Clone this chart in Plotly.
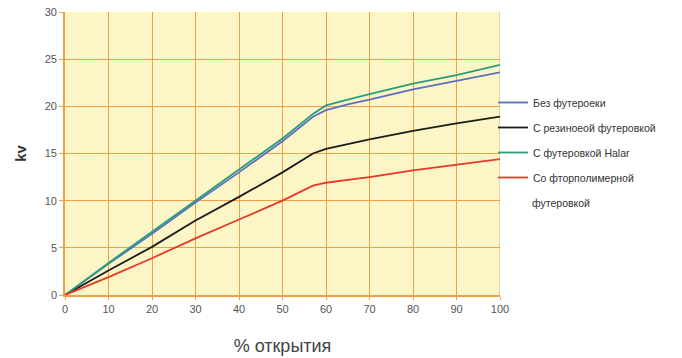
import plotly.graph_objects as go

x_open = [0, 10, 20, 30, 40, 50, 57, 60, 65, 70, 80, 90, 100]
kv_none = [0, 3.3, 6.5, 9.8, 13.0, 16.3, 18.9, 19.6, 20.2, 20.7, 21.8, 22.7, 23.6]
kv_rubber = [0, 2.6, 5.1, 7.9, 10.4, 13.0, 15.0, 15.5, 16.0, 16.5, 17.4, 18.2, 18.9]
kv_halar = [0, 3.4, 6.7, 10.0, 13.3, 16.6, 19.2, 20.1, 20.7, 21.3, 22.4, 23.3, 24.4]
kv_fluoro = [0, 1.9, 3.9, 6.0, 8.0, 10.0, 11.6, 11.9, 12.2, 12.5, 13.2, 13.8, 14.4]

names = ["Без футероеки", "С резиноеой футеровкой", "С футеровкой Halar", "Со фторполимерной"]
colors = ["#5b6fc4", "#1c1c1c", "#2a9d7a", "#e8382a"]
series = [kv_none, kv_rubber, kv_halar, kv_fluoro]

font_main = "Liberation Sans, Arial, sans-serif"
grid = "#f0a048"

# body margin is removed by the post script below
OFF = 0
X0, Y0 = 65, 295          # plot origin in the screenshot
pw, ph = 435, 283
W, H = 682, 358
L, T = X0 - OFF, (Y0 - ph) - OFF
R, B = W - L - pw, H - T - ph

fig = go.Figure()
for i, (n, c, s) in enumerate(zip(names, colors, series)):
    fig.add_trace(go.Scatter(x=x_open, y=s, mode="lines", name=n,
                             legendgroup=str(i),
                             line=dict(color=c, width=1.8)))

fig.update_layout(
    width=W, height=H,
    margin=dict(l=L, r=R, t=T, b=B),
    paper_bgcolor="white",
    plot_bgcolor="#fcf6c6",
    font=dict(family=font_main, color="#555555", size=11),
    showlegend=True,
    legend=dict(x=(493 - X0) / pw, y=(Y0 - 88) / ph, xanchor="left", yanchor="top",
                bgcolor="rgba(0,0,0,0)", tracegroupgap=6,
                font=dict(family=font_main, size=10.5, color="#333333"),
                itemwidth=30),
    xaxis=dict(range=[0, 100], tickvals=[0, 10, 20, 30, 40, 50, 60, 70, 80, 90, 100],
               showgrid=True, gridcolor=grid, gridwidth=1.4,
               showline=True, linecolor=grid, linewidth=1.6,
               ticks="outside", ticklen=3, tickcolor=grid,
               zeroline=False, automargin=False, ticklabeloverflow="allow",
               tickfont=dict(size=11, color="#555555"),
               title=dict(text="% открытия", standoff=25,
                          font=dict(family=font_main, size=18, color="#444444"))),
    yaxis=dict(range=[0, 30], tickvals=[0, 5, 10, 15, 20, 25, 30],
               showgrid=True, gridcolor=grid, gridwidth=1.4,
               showline=True, linecolor=grid, linewidth=1.6,
               ticks="outside", ticklen=4, tickcolor=grid,
               zeroline=False, automargin=False, ticklabeloverflow="allow",
               tickfont=dict(size=11, color="#555555"),
               title=dict(text="<b>kv</b>", standoff=15,
                          font=dict(family=font_main, size=15, color="#333333"))),
)

fig.add_shape(type="line", xref="x", yref="paper", x0=100, x1=100, y0=0, y1=1,
              line=dict(color="#d9c99a", width=1.4), layer="between")

fig.add_annotation(text="футеровкой", xref="paper", yref="paper",
                   x=(530 - X0) / pw, y=(Y0 - 203) / ph, xanchor="left", yanchor="middle",
                   showarrow=False,
                   font=dict(family=font_main, size=10.5, color="#333333"))

fig.write_html("out.html", config={"displayModeBar": False},
               post_script="document.body.style.margin='0px';")
